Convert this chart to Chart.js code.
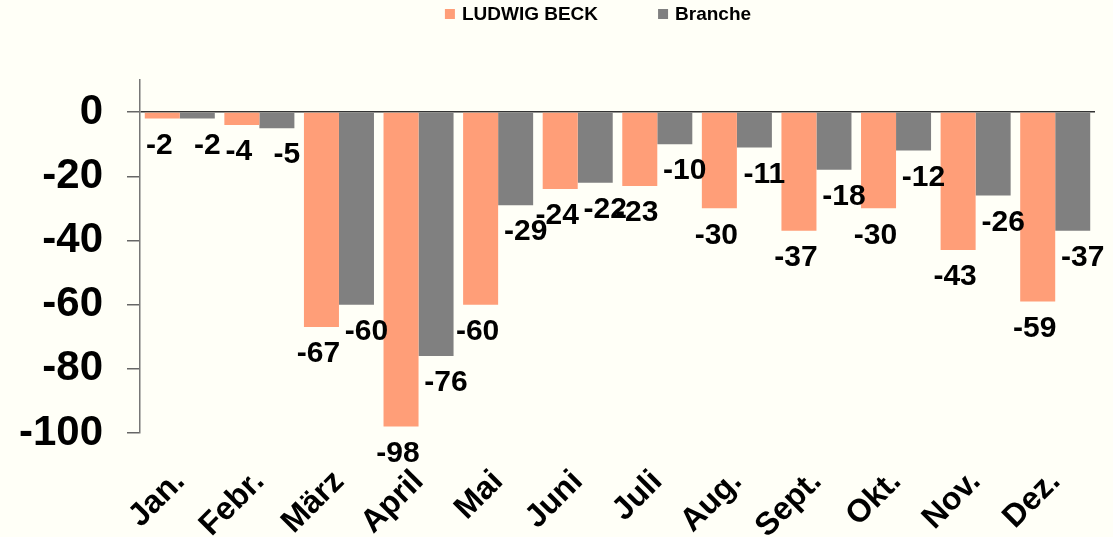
<!DOCTYPE html>
<html>
<head>
<meta charset="utf-8">
<script src="https://cdn.jsdelivr.net/npm/chart.js@4/dist/chart.umd.min.js"></script>
<style>
  html, body { margin: 0; padding: 0; background: #FFFFF7; }
  #wrap { width: 1113px; height: 537px; }
</style>
</head>
<body>
<div id="wrap"><canvas id="chart" width="1113" height="537"></canvas></div>
<script>
// ── Data ─────────────────────────────────────────────────────────────────────
const months = ['Jan.', 'Febr.', 'März', 'April', 'Mai', 'Juni', 'Juli', 'Aug.', 'Sept.', 'Okt.', 'Nov.', 'Dez.'];
const ludwigBeck = [-2, -4, -67, -98, -60, -24, -23, -30, -37, -30, -43, -59];
const branche = [-2, -5, -60, -76, -29, -22, -10, -11, -18, -12, -26, -37];
const seriesNames = ['LUDWIG BECK', 'Branche'];
const yTicks = [0, -20, -40, -60, -80, -100];

const FONT = '"Liberation Sans", Arial, sans-serif';

// value labels under each bar end
const valueLabels = {
    id: 'valueLabels',
    afterDatasetsDraw(chart) {
        const ctx = chart.ctx;
        const shift = [-3, 10];
        ctx.save();
        ctx.font = 'bold 30px ' + FONT;
        ctx.fillStyle = '#000';
        ctx.textAlign = 'center';
        ctx.textBaseline = 'middle';
        chart.data.datasets.forEach((ds, i) => {
            chart.getDatasetMeta(i).data.forEach((bar, j) => {
                ctx.fillText(String(ds.data[j]), bar.x + shift[i], bar.y + 27);
            });
        });
        ctx.restore();
    }
};

// legend row at the top, a bit right of centre like the original
const legendRow = {
    id: 'legendRow',
    afterDraw(chart) {
        const ctx = chart.ctx;
        const box = 10, textGap = 7, itemGap = 60, midX = 598, midY = 14;
        ctx.save();
        ctx.font = 'bold 19px ' + FONT;
        const items = chart.data.datasets.map(ds => ({
            text: ds.label,
            color: ds.backgroundColor,
            w: ctx.measureText(ds.label).width
        }));
        const total = items.reduce((s, it) => s + box + textGap + it.w, 0) + itemGap * (items.length - 1);
        let x = midX - total / 2;
        ctx.textBaseline = 'middle';
        items.forEach(it => {
            ctx.fillStyle = it.color;
            ctx.fillRect(x, midY - box / 2, box, box);
            x += box + textGap;
            ctx.fillStyle = '#000';
            ctx.fillText(it.text, x, midY + 1);
            x += it.w + itemGap;
        });
        ctx.restore();
    }
};

new Chart(document.getElementById('chart').getContext('2d'), {
    type: 'bar',
    data: {
        labels: months,
        datasets: [
            { label: seriesNames[0], data: ludwigBeck, backgroundColor: '#FF9E78' },
            { label: seriesNames[1], data: branche, backgroundColor: '#808080' }
        ]
    },
    options: {
        responsive: false,
        animation: false,
        devicePixelRatio: 1,
        categoryPercentage: 0.88,
        barPercentage: 1.0,
        layout: { padding: { left: 0, right: 18, top: 80, bottom: 0 } },
        plugins: {
            tooltip: { enabled: false },
            legend: { display: false }
        },
        scales: {
            x: {
                grid: { display: false },
                border: { display: false },
                ticks: {
                    minRotation: 45,
                    maxRotation: 45,
                    padding: 22,
                    color: '#000',
                    font: { family: FONT, weight: 'bold', size: 32 }
                },
                afterFit(scale) { scale.height = 104; }
            },
            y: {
                min: -100,
                max: 10,
                afterBuildTicks(scale) { scale.ticks = yTicks.map(v => ({ value: v })); },
                grid: {
                    color: c => (c.tick && c.tick.value === 0 ? '#333' : 'rgba(0,0,0,0)'),
                    lineWidth: 1.5,
                    tickColor: '#666',
                    tickLength: 13
                },
                border: { display: true, color: '#777', width: 1.5 },
                ticks: {
                    padding: 24,
                    color: '#000',
                    font: { family: FONT, weight: 'bold', size: 42 }
                },
                afterFit(scale) { scale.width = 140; }
            }
        }
    },
    plugins: [valueLabels, legendRow]
});
</script>
</body>
</html>
